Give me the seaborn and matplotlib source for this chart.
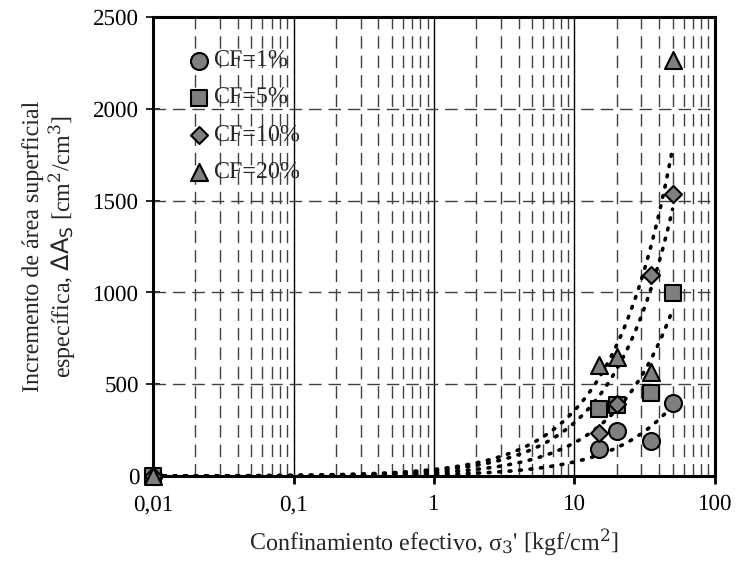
import numpy as np
import pandas as pd
import matplotlib
matplotlib.use("Agg")
import matplotlib.pyplot as plt
import seaborn as sns
from matplotlib.ticker import FixedLocator, FixedFormatter, LogLocator, NullFormatter

# Effective confining stress [kgf/cm2]
confinement = [0.01, 15, 20, 35, 50]

# Specific surface area increment [cm2/cm3] for each fines content
cf_labels = ["CF=1%", "CF=5%", "CF=10%", "CF=20%"]
area_cf1 = [0, 145, 245, 190, 395]
area_cf5 = [0, 365, 387, 452, 995]
area_cf10 = [0, 234, 392, 1095, 1535]
area_cf20 = [0, 605, 648, 566, 2266]

x_ticks = [0.01, 0.1, 1, 10, 100]
x_ticklabels = ["0,01", "0,1", "1", "10", "100"]
y_ticks = [0, 500, 1000, 1500, 2000, 2500]

markers = ["o", "s", "D", "^"]
marker_sizes = [150, 140, 75, 150]

sns.set_theme(style="white")
plt.rcParams["font.family"] = "Liberation Serif"
plt.rcParams["mathtext.fontset"] = "dejavuserif"
plt.rcParams["text.hinting"] = "no_hinting"
plt.rcParams["text.hinting_factor"] = 1

fig = plt.figure(figsize=(7.4, 5.61), dpi=100)
ax = fig.add_axes([0.207, 0.1515, 0.759, 0.8185])

series = [area_cf1, area_cf5, area_cf10, area_cf20]
x = np.array(confinement, dtype=float)

# Linear trend lines through the origin, drawn on the log axis
x_line = np.logspace(np.log10(0.01), np.log10(50), 400)
for vals in series:
    y = np.array(vals, dtype=float)
    slope = np.sum(x * y) / np.sum(x * x)
    trend = pd.DataFrame({"x": x_line, "y": slope * x_line})
    sns.lineplot(data=trend, x="x", y="y", ax=ax, color="black",
                 linestyle=(0, (0.5, 2.4)), linewidth=2.6,
                 dash_capstyle="round", zorder=3)

for lab, vals, m, s in zip(cf_labels, series, markers, marker_sizes):
    df = pd.DataFrame({"x": confinement, "y": vals})
    sns.scatterplot(data=df, x="x", y="y", ax=ax, marker=m, s=s,
                    color="#7f7f7f", edgecolor="black", linewidth=1.5,
                    label=lab, zorder=4, clip_on=False)

ax.set_xscale("log")
ax.set_xlim(0.01, 100)
ax.set_ylim(0, 2500)

ax.xaxis.set_major_locator(FixedLocator(x_ticks))
ax.xaxis.set_major_formatter(FixedFormatter(x_ticklabels))
ax.xaxis.set_minor_locator(LogLocator(base=10, subs=np.arange(2, 10)))
ax.xaxis.set_minor_formatter(NullFormatter())
ax.yaxis.set_major_locator(FixedLocator(y_ticks))

# Grid: solid decades, dashed minor verticals and dashed horizontals
for xv in [0.1, 1, 10]:
    ax.axvline(xv, color="black", linewidth=1.0, zorder=1)
for dec in [0.01, 0.1, 1, 10]:
    for k in range(2, 10):
        ax.axvline(dec * k, color="#404040", linewidth=1.0,
                   linestyle=(0, (9, 5)), zorder=1)
for yv in [500, 1000, 1500, 2000]:
    ax.axhline(yv, color="#404040", linewidth=1.0,
               linestyle=(0, (9, 5)), zorder=1)

for sp in ax.spines.values():
    sp.set_visible(True)
    sp.set_color("black")
    sp.set_linewidth(2.2)

ax.tick_params(axis="x", which="major", direction="out", length=6, width=2,
               bottom=True, labelsize=16.5, pad=7, colors="black")
ax.tick_params(axis="x", which="minor", bottom=False)
ax.tick_params(axis="y", which="major", direction="inout", length=10, width=1.2,
               left=True, labelsize=16.5, pad=5, colors="black")

ax.set_xlabel("Confinamiento efectivo, σ$_3$' [kgf/cm$^2$]", fontsize=17,
              labelpad=8)
ax.set_ylabel("Incremento de área superficial\nespecífica, $\\mathsf{\\Delta A_S}$ [cm$^2$/cm$^3$]",
              fontsize=17, labelpad=12, linespacing=1.05)

leg = ax.legend(loc="upper left", bbox_to_anchor=(0.03, 0.965), frameon=False,
                fontsize=17.5, handletextpad=0.05, labelspacing=0.62,
                handlelength=1.0, borderaxespad=0.3)

fig.savefig("out.png", dpi=100)
